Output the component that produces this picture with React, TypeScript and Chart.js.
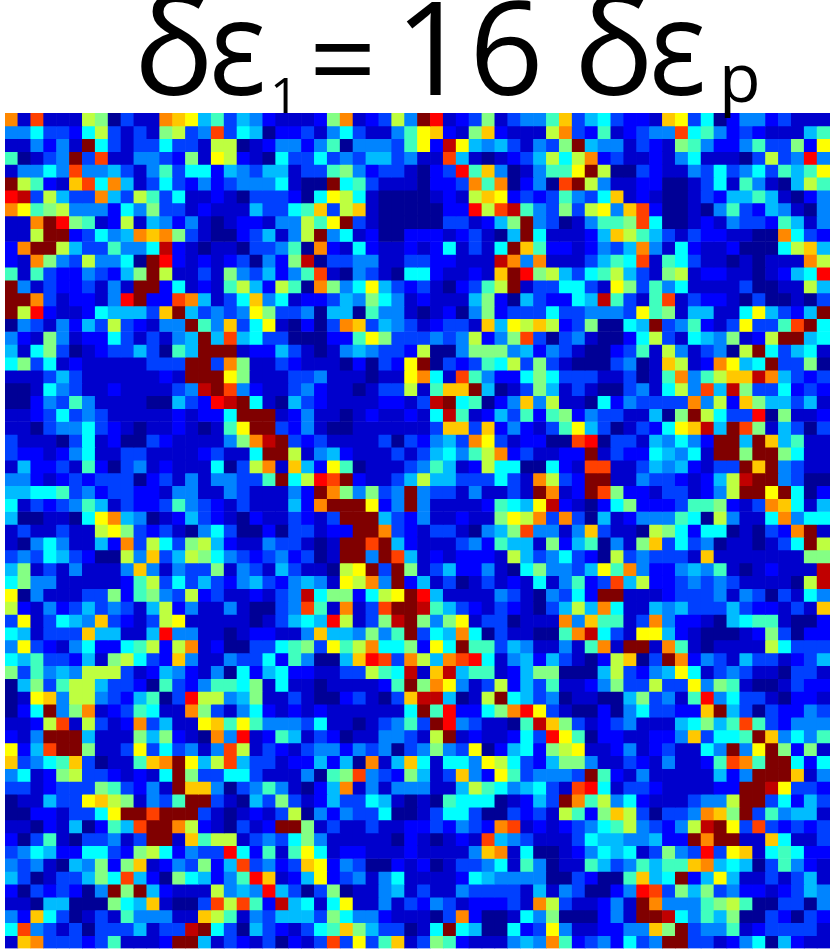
import React, { useEffect, useRef } from "react";
import { Chart, registerables } from "chart.js";

Chart.register(...registerables);

// Colour levels, low to high (0..g).
const levelKeys = "0123456789abcdefg";
const jetPalette = [
  "#000096", "#0000cc", "#0000ff", "#0040ff", "#0084ff", "#00bcff", "#00ffff",
  "#40ffbe", "#84ff84", "#beff40", "#ffff00", "#ffc800", "#ff8800", "#ff4000",
  "#ff0000", "#c00000", "#800000",
];

const columnsLeft = [
  "c 1 d 1 1 1 9 8 0 3 1 1 c b a 5 7 3 5 4 2",
  "4 4 6 3 3 2 6 9 3 1 3 1 8 9 3 4 d 3 6 5 0",
  "1 1 4 2 4 1 g 6 3 1 3 3 6 3 3 1 9 9 0 1 2",
  "7 0 1 3 4 g 3 d 1 1 4 4 3 2 8 1 a 9 2 1 0",
  "1 4 4 6 4 d 4 4 5 3 1 4 7 3 6 6 2 5 4 3 5",
  "g 9 7 2 1 b d 6 c 5 1 3 6 3 2 4 2 3 4 4 4",
  "e f 3 9 5 3 3 c 5 3 9 7 3 6 1 1 2 1 0 3 3",
  "c a 7 8 9 4 4 4 2 6 4 8 3 3 1 2 1 1 1 5 3",
  "1 1 c g e 8 7 1 2 9 1 5 4 2 4 1 0 1 2 2 1",
  "1 1 9 g g 2 3 6 4 5 c b c 8 3 1 0 0 2 3 5",
  "2 c g g 9 5 3 3 7 4 4 6 f 2 1 0 1 1 0 3 3",
  "2 1 c 8 4 3 9 4 4 6 0 g e 2 1 2 1 2 3 0 4",
  "7 1 7 3 2 2 4 3 2 5 8 g 9 1 1 3 1 8 4 3 5",
  "g 4 1 3 2 2 3 1 4 1 g g 2 6 1 2 1 7 9 5 2",
  "g g c 3 1 2 2 1 4 e g 2 2 d c 5 1 3 6 b 4",
  "g 9 e 2 1 1 2 6 5 5 5 3 b g 5 3 4 3 4 a 8",
  "0 4 3 1 4 2 5 3 9 3 2 1 4 4 g 7 4 b 3 6 a",
  "4 2 1 8 4 1 2 2 6 3 1 3 1 4 5 g 5 d 5 6 3",
  "5 1 6 8 3 0 1 2 3 3 5 3 0 7 5 g g g 1 2 2",
  "6 8 3 6 1 2 1 1 1 1 1 3 3 3 g g 3 c 8 1 1",
  "1 1 1 3 5 3 1 1 1 1 1 1 2 1 g g g a 8 1 1",
  "0 0 1 6 4 3 1 1 2 1 1 1 1 3 4 f g d 4 2 1",
  "0 0 2 4 3 7 4 1 1 1 1 0 0 5 3 2 e f g 6 1",
  "1 1 2 3 6 3 4 3 1 1 1 1 1 2 1 2 2 6 g g g",
  "1 1 0 3 4 4 6 3 2 1 0 1 1 2 1 0 1 7 a g g",
  "3 1 1 1 0 3 6 1 2 0 0 3 2 1 1 1 1 4 8 c f",
  "3 2 2 1 2 4 6 1 1 3 3 1 1 1 1 2 3 1 1 6 g",
  "1 5 2 2 3 1 7 2 0 3 4 1 2 1 1 1 6 0 3 9 c",
  "4 4 2 1 2 3 2 3 3 3 0 2 3 1 4 1 4 4 3 3 7",
  "5 5 6 6 7 3 4 2 3 3 2 2 1 4 4 1 1 4 3 1 1",
  "6 1 3 2 3 4 7 5 1 3 2 2 3 7 4 3 2 1 3 1 1",
  "5 0 0 1 1 0 6 a c 5 4 0 1 2 5 3 2 1 0 2 1",
  "1 3 1 1 3 1 1 9 a 8 3 2 3 1 0 4 6 3 0 0 2",
  "1 0 4 6 4 1 1 5 2 c 3 9 6 3 8 9 5 2 1 1 4",
  "3 4 3 6 5 3 2 0 0 9 4 b 3 5 9 8 6 4 3 2 3",
  "5 8 1 3 1 4 1 1 1 4 b 4 1 4 3 3 8 1 4 3 1",
  "6 8 4 4 1 1 1 1 1 2 7 9 3 6 3 5 3 2 4 5 3",
  "a 0 4 1 1 1 3 3 8 2 7 8 4 3 9 2 3 1 1 2 1",
  "9 2 1 4 2 3 5 3 4 3 1 5 9 2 4 1 1 4 1 0 0",
  "3 a 1 3 6 5 4 b 3 2 1 3 9 a 1 1 1 1 1 0 1",
  "6 5 1 3 3 3 b 5 5 1 1 5 e 4 4 1 1 0 1 2 2",
  "4 a 3 2 1 4 6 2 2 6 7 9 2 9 c 1 2 0 0 3 3",
  "6 5 7 3 3 2 5 1 8 9 6 3 2 b 4 1 1 4 3 3 6",
  "8 3 7 4 5 4 9 9 9 3 1 2 5 4 2 1 4 0 6 2 5",
  "0 5 8 3 7 9 9 5 3 3 2 0 7 3 2 4 7 7 6 8 1",
  "0 1 a b 4 9 9 4 3 2 5 7 0 3 e 9 9 4 5 8 1",
  "0 2 6 g 4 8 c 1 2 3 7 6 1 1 c 8 3 1 4 6 2",
  "1 1 2 9 d 1 9 3 1 2 c 3 5 1 1 a b 7 a 7 4",
  "2 1 4 g g g 5 1 1 1 8 5 8 2 1 0 c 4 e 1 2",
  "a 2 5 d g g 8 1 1 3 a 3 6 3 4 1 4 d 9 1 3",
  "b 3 4 6 7 b 3 0 1 1 7 b c g a 5 9 d 5 3 3",
  "4 6 1 2 8 9 3 3 2 1 2 1 6 g 8 3 3 6 6 3 1",
  "3 3 1 2 3 3 3 8 7 3 2 4 1 g b b 4 0 3 4 7",
  "0 1 1 5 3 3 a b 9 8 1 4 3 7 g g 3 1 0 5 3",
  "0 0 2 2 1 3 3 6 a g g d g g g 3 1 0 1 2 1",
  "1 1 0 2 1 5 0 2 7 5 d g g c 9 2 1 0 3 1 2",
  "2 0 3 7 1 0 3 3 4 1 3 g g 1 b 7 9 9 1 3 4",
  "3 4 6 5 2 2 6 6 3 2 8 9 6 2 4 3 3 e 6 2 7",
  "4 3 4 1 0 5 4 8 2 8 b 1 2 4 3 8 2 5 d 3 4",
  "5 3 0 1 3 3 5 8 6 d 5 2 0 8 6 5 2 4 7 e b",
  "2 0 3 2 3 2 0 4 g 8 g 5 2 1 1 1 9 4 5 4 e",
  "1 1 0 5 5 0 0 0 8 6 5 b 1 0 0 3 d 9 d 7 2",
  "4 2 b 6 3 0 1 3 1 7 4 4 4 1 1 b 9 7 1 4 3",
  "6 d 4 3 1 3 0 3 3 3 5 1 3 3 f g 6 3 0 5 3",
  "1 b c 3 3 3 2 3 7 1 1 1 2 g g 5 1 3 2 1 3",
];

const columnsMiddle = [
  "1 1 1 2 8 c 1 2 3 9 4 g e 1 2 3 8 1 3 4 4 7",
  "2 2 3 1 4 6 3 1 1 4 7 a b 2 1 8 b 2 1 1 1 9",
  "4 4 2 4 7 0 4 4 4 3 7 a 2 f a 5 4 5 3 1 4 3",
  "6 3 3 6 3 4 3 5 5 3 4 1 1 d 5 1 0 1 2 3 5 9",
  "5 1 3 3 7 8 4 2 3 3 1 0 2 3 e 7 b 4 0 1 4 7",
  "6 1 0 0 g 6 7 3 1 1 1 0 2 2 3 c 7 c 0 2 4 0",
  "3 2 0 6 a 9 6 1 0 0 0 0 1 2 1 9 b a 2 3 2 3",
  "3 6 7 b 3 9 b 1 0 0 0 0 0 2 2 e 9 d f 7 4 3",
  "4 4 9 7 a g 3 1 0 0 0 0 0 3 3 1 2 5 8 g 4 3",
  "1 4 9 g 4 6 1 2 0 0 2 2 2 1 2 3 1 0 5 g 6 1",
  "4 7 0 c 2 1 6 2 1 1 2 1 2 6 1 3 1 6 g b 7 2",
  "2 8 f 0 3 3 4 4 1 1 3 3 2 2 1 1 1 f c 4 c 1",
  "2 4 7 d 1 0 4 3 1 0 6 6 2 1 1 2 1 b g e 8 9",
  "9 7 0 c 8 4 6 a 5 3 2 3 1 0 2 3 7 9 g 1 3 3",
  "6 1 2 2 3 5 4 8 6 4 1 2 1 1 1 5 8 2 0 5 3 2",
  "3 3 4 0 5 5 0 7 4 4 1 0 1 2 0 4 8 2 3 3 3 6",
  "1 0 2 0 3 c b 3 5 4 3 1 2 3 3 1 b 5 a 9 b 9",
  "3 0 0 0 2 2 7 a 8 3 3 3 4 3 4 9 2 4 8 d 3 0",
  "5 3 1 0 1 4 5 4 3 3 2 9 0 0 4 8 8 8 4 5 2 4",
  "3 2 1 1 1 0 2 0 3 2 a g 0 3 2 3 7 6 9 3 8 3",
  "1 3 3 4 1 1 1 0 1 1 a c 6 1 d 7 4 2 2 6 8 6",
  "1 3 4 2 1 1 0 1 3 3 9 1 7 b b g 5 0 1 3 8 5",
  "0 5 3 2 1 1 1 1 2 2 1 3 f g 6 7 0 2 4 b 4 9",
  "1 2 4 1 1 0 1 2 1 1 2 1 6 f 7 1 2 5 3 7 2 7",
  "3 2 4 1 0 0 1 1 1 1 1 1 3 b b 3 b 2 4 2 1 3",
  "g 3 2 3 1 1 1 1 3 0 3 2 4 5 3 c a 3 1 2 2 0",
  "g 9 1 4 5 2 1 1 1 3 1 3 5 6 4 7 9 c 2 3 1 1",
  "1 b 5 2 a 7 0 1 1 1 3 4 7 5 1 2 9 6 6 0 0 6",
  "g 6 9 e d g 2 1 1 3 5 9 5 5 3 3 3 6 3 1 c 9",
  "1 4 2 g c 8 4 8 3 4 g 4 3 3 1 4 1 1 3 1 g c",
  "1 5 2 c g g g a 2 4 g 4 1 1 1 1 2 7 6 5 a f",
  "1 3 2 1 3 g g g 5 3 2 4 1 1 2 1 1 8 a 9 c 3",
  "0 3 3 1 2 2 g g c 3 2 1 3 3 1 0 4 5 8 d 4 4",
  "3 3 1 0 1 g g d g 5 2 1 1 1 3 4 2 7 5 5 1 8",
  "4 2 3 0 1 g g 4 g d 5 1 2 1 2 2 2 1 9 5 3 4",
  "5 3 1 1 0 9 a g 3 g 8 1 3 5 2 2 4 1 0 6 8 4",
  "2 4 5 4 1 a 9 c 4 g 2 5 1 3 0 1 3 1 2 1 6 1",
  "3 4 f 6 8 8 2 6 9 a g e 5 1 1 1 1 4 3 1 0 4",
  "3 4 d 7 1 c 1 3 d g g f 7 5 3 2 1 3 2 1 0 3",
  "3 5 6 5 e 9 1 3 8 f g 8 4 8 a 1 3 3 0 1 1 1",
  "1 1 4 b 5 5 4 8 4 7 g 3 6 5 c 6 0 3 1 1 0 0",
  "6 7 8 3 a 7 9 c 6 6 8 2 a 6 g 7 7 3 5 4 1 1",
  "2 7 4 0 0 5 b e d 3 c 9 5 c d e 6 1 4 5 2 5",
  "6 2 2 1 1 3 3 9 7 6 f 1 b f 5 7 7 1 2 5 8 8",
  "6 1 1 0 1 1 1 1 2 7 g 8 c a 4 1 3 9 2 5 3 7",
  "1 3 1 0 0 2 3 1 0 3 b f f 5 0 1 9 g 6 5 3 4",
  "1 2 1 2 1 1 1 1 1 1 6 g 7 e 2 2 6 8 c e a 3",
  "4 4 3 6 1 1 0 1 3 4 7 3 g e 4 3 1 1 0 7 f b",
  "7 5 1 3 2 0 1 1 4 4 3 1 9 g 1 2 1 1 2 6 3 e",
  "2 1 3 4 4 2 4 3 4 0 3 4 8 4 3 a 0 2 5 6 2 8",
  "1 2 2 5 2 5 0 c 1 5 b 6 1 6 6 4 a 9 6 3 2 5",
  "1 1 4 0 7 8 d 4 3 2 8 5 1 3 b 4 2 a 7 3 4 4",
  "4 1 0 2 5 c 1 4 1 4 4 4 1 1 5 9 7 6 4 5 6 3",
  "8 3 1 2 5 3 3 6 5 1 0 1 0 7 6 6 6 0 1 2 5 3",
  "3 9 0 4 2 4 3 3 6 0 0 1 3 6 6 3 0 0 3 2 3 1",
  "g g 8 1 3 1 1 3 1 1 2 2 3 2 4 3 2 c d 1 2 1",
  "3 6 8 4 1 1 1 1 1 0 2 1 0 1 2 1 d 5 4 3 1 1",
  "1 7 a 6 1 2 2 1 1 1 2 1 1 1 1 4 b c 1 6 0 0",
  "2 3 b a 2 4 3 0 0 2 1 2 0 1 3 3 4 6 1 7 4 0",
  "1 2 5 a 2 3 4 1 4 6 1 1 1 1 2 6 5 4 4 4 4 0",
  "5 3 0 3 8 0 1 1 4 5 1 3 1 1 4 3 3 3 3 1 5 1",
  "f 5 6 1 6 a 1 1 4 1 3 2 4 3 1 2 2 2 3 1 c 9",
  "5 5 5 3 8 6 4 4 2 1 1 1 0 3 c 2 0 0 1 6 4 8",
  "2 1 3 6 7 b 8 5 3 3 0 1 6 g 6 5 0 0 6 2 3 a",
  "0 2 1 3 d 3 a 3 7 b 1 3 8 7 2 1 1 1 4 5 4 c",
];

const columnsRight = [
  "b 3 5 6 3 2 2 1 b a 3 6 0 2 4 4 2 3 1 1 1",
  "c 3 2 7 1 2 3 4 4 d 6 7 4 2 3 2 1 1 1 5 7",
  "8 g 5 4 4 1 3 2 1 8 7 4 2 2 4 7 3 3 8 2 a",
  "6 9 c 2 3 1 1 2 1 4 6 1 1 1 0 3 9 3 4 e 4",
  "7 a g 9 0 0 3 2 1 1 4 3 6 3 4 6 3 7 5 7 a",
  "d g 9 4 1 1 2 2 0 0 1 3 6 1 7 4 1 0 5 9 7",
  "7 4 3 6 b 1 2 1 0 0 1 3 2 5 5 7 5 1 0 2 4",
  "8 3 9 a 4 b d 2 0 0 1 0 4 7 3 2 5 4 1 0 4",
  "0 1 4 7 7 8 d 6 0 0 1 2 1 4 3 3 2 7 5 1 4",
  "1 1 2 5 b 9 7 5 3 1 3 2 2 1 1 0 0 c 6 3 2",
  "2 1 2 4 3 5 c 4 1 6 2 1 1 2 0 0 0 6 9 b 5",
  "1 1 3 5 7 6 d 1 7 6 3 1 1 0 1 0 1 1 1 c 9",
  "5 3 6 7 9 5 3 1 8 9 1 2 2 1 1 0 1 2 5 6 e",
  "6 6 3 1 a 8 3 7 4 6 1 1 1 1 3 0 0 1 1 9 5",
  "2 6 5 f 7 3 1 7 d 1 3 2 2 1 0 3 0 0 1 0 3",
  "3 3 4 4 4 3 a 7 8 1 5 5 1 1 6 a 5 3 2 5 g",
  "2 3 8 0 0 6 5 g 3 4 7 2 1 3 a 3 3 7 d g 6",
  "3 4 1 0 0 2 6 9 3 1 6 5 4 8 1 2 9 g g 5 6",
  "3 1 0 0 2 3 7 1 9 4 1 3 4 0 9 g 6 3 5 6 1",
  "1 0 0 0 3 4 0 1 b 9 1 2 c a 5 6 g 3 3 8 0",
  "3 3 3 1 1 3 0 1 7 c 4 7 9 b b f c 5 3 2 3",
  "1 3 1 0 0 3 4 1 6 9 4 d 5 f 8 3 3 6 2 3 2",
  "1 1 0 6 2 4 3 3 3 3 c 4 9 2 b 8 5 5 3 5 1",
  "8 2 4 3 3 1 1 5 0 8 g 9 6 3 3 e 0 8 1 1 2",
  "7 a 5 3 0 1 3 2 6 a b f 5 g d 8 1 5 3 0 3",
  "0 d e 0 3 3 1 5 4 6 4 2 g g 5 g b 5 7 1 1",
  "2 2 g 1 3 2 2 6 5 4 6 1 g g 8 g g 8 6 1 1",
  "2 1 d d 1 1 3 5 4 5 2 1 3 3 g b g 4 3 1 1",
  "3 2 g g 1 1 4 3 3 2 1 2 5 9 f g g 4 3 0 0",
  "1 2 g d 8 2 2 1 3 3 1 2 4 9 g g a g 6 0 2",
  "2 1 0 2 6 8 2 2 2 3 7 7 8 2 1 3 c b 6 1 5",
  "c 3 0 5 1 2 4 4 4 7 6 0 9 4 1 1 6 c 4 6 6",
  "1 4 b 3 1 1 0 9 8 6 2 6 6 0 1 0 3 2 c g 1",
  "2 5 7 0 4 1 8 b 3 6 3 4 0 1 1 0 1 3 6 g 9",
  "6 3 2 0 9 3 4 3 3 3 1 b 1 1 1 1 1 1 1 8 8",
  "4 3 5 a 7 c 4 2 2 4 5 4 7 1 0 1 2 1 1 1 f",
  "4 7 2 3 d 5 9 2 2 3 4 3 4 3 1 1 1 1 0 9 f",
  "3 6 2 g g 1 1 1 2 3 3 3 4 1 4 3 0 3 1 6 4",
  "5 9 5 c 6 1 1 5 4 5 3 3 3 5 3 2 2 1 3 1 b",
  "c 4 b 7 7 1 3 c 4 2 2 1 0 5 6 7 7 1 0 0 2",
  "7 c f 6 3 1 a a 5 2 1 0 0 0 1 2 8 3 0 2 2",
  "4 1 7 c 1 g g 1 c 7 1 0 1 1 1 1 9 6 3 3 3",
  "3 1 0 2 9 b 0 3 g c 2 4 3 1 5 3 3 1 2 3 5",
  "0 0 0 5 9 3 2 4 5 a 6 1 3 4 3 1 1 0 3 3 1",
  "1 1 2 4 8 3 3 9 3 3 a 4 8 7 1 0 0 1 3 2 2",
  "0 1 1 0 0 5 8 3 4 1 7 e 4 6 3 3 1 0 2 2 1",
  "1 0 0 2 0 4 6 3 3 2 2 b g 5 3 0 3 2 2 4 3",
  "8 3 1 2 3 4 1 1 1 5 6 8 5 7 d 7 3 2 4 4 4",
  "a 7 0 2 2 1 1 2 2 4 b 3 6 6 7 g b 4 6 4 7",
  "9 a 1 1 2 4 1 2 3 1 1 6 4 g 4 a g 8 2 8 1",
  "8 8 4 1 1 3 2 1 4 1 1 2 7 d c 7 g g 6 2 6",
  "4 3 g 7 2 1 4 1 1 1 1 1 5 2 4 g g g b 1 4",
  "1 d e 6 1 3 3 2 1 1 1 1 2 2 g g f a 3 3 2",
  "g c 7 9 4 6 2 1 1 1 3 4 4 9 g g 3 6 2 5 3",
  "9 7 2 8 b 9 3 0 3 3 4 c b 8 g 3 7 4 5 5 1",
  "2 3 4 6 7 9 4 3 2 4 9 f g a 3 d 3 2 3 2 3",
  "1 3 6 5 5 4 4 5 2 2 g c g g 1 1 b 6 1 1 3",
  "1 2 4 6 5 6 1 3 8 4 3 e 3 a b 1 6 7 6 2 2",
  "1 1 7 5 3 4 7 5 7 7 b c 5 6 5 0 3 7 4 2 1",
  "0 3 2 0 0 7 b 5 6 g 2 5 a 5 1 1 3 1 3 5 1",
  "4 3 0 0 2 4 e d 3 8 5 8 3 4 2 2 1 2 3 5 4",
  "3 1 1 2 4 1 g c 4 4 4 7 8 9 7 0 0 3 3 0 4",
  "0 0 0 2 4 1 g g f 6 4 7 5 8 0 0 3 2 0 3 2",
  "4 1 1 2 2 4 4 b 8 g 3 4 4 7 1 2 3 3 3 3 1",
  "7 2 3 4 2 6 3 4 g g 3 3 1 2 4 6 0 5 2 1 1",
];

const titlePieces = [
  { text: "δ", x: 134, y: 95, size: 133, scaleX: 1, weight: 500 },
  { text: "ε", x: 209, y: 95, size: 133, scaleX: 0.9, weight: 500 },
  { text: "1", x: 270, y: 113, size: 50, scaleX: 1, weight: 400 },
  { text: "=", x: 309, y: 101, size: 118, scaleX: 1, weight: 500 },
  { text: "16", x: 395, y: 95, size: 130, scaleX: 1, weight: 500 },
  { text: "δ", x: 574, y: 95, size: 133, scaleX: 1, weight: 500 },
  { text: "ε", x: 649, y: 95, size: 133, scaleX: 0.9, weight: 500 },
  { text: "p", x: 719, y: 102, size: 68, scaleX: 1, weight: 400 },
];

const rowLevels = columnsLeft.map((left, i) =>
  `${left} ${columnsMiddle[i]} ${columnsRight[i]}`
    .split(" ")
    .map((key) => levelKeys.indexOf(key))
);
const columnLabels = rowLevels[0].map((_, i) => String(i));

const titlePlugin = {
  id: "heatTitle",
  afterDraw(chart: Chart) {
    const ctx = chart.ctx;
    ctx.save();
    ctx.fillStyle = "#000000";
    ctx.textAlign = "left";
    ctx.textBaseline = "alphabetic";
    for (const piece of titlePieces) {
      ctx.save();
      ctx.font = `${piece.weight} ${piece.size}px "Open Sans"`;
      ctx.translate(piece.x, piece.y);
      ctx.scale(piece.scaleX, 1);
      ctx.fillText(piece.text, 0, 0);
      ctx.restore();
    }
    ctx.restore();
  },
};

export default function App() {
  const canvasRef = useRef<HTMLCanvasElement | null>(null);

  useEffect(() => {
    const chart = new Chart(canvasRef.current as HTMLCanvasElement, {
      type: "bar",
      data: {
        labels: columnLabels,
        datasets: rowLevels.map((levels, r) => ({
          label: `row ${r}`,
          data: levels.map(() => [r, r + 1]),
          backgroundColor: levels.map((v) => jetPalette[v]),
          borderWidth: 0,
          barPercentage: 1,
          categoryPercentage: 1,
          grouped: false,
        })),
      } as any,
      options: {
        responsive: false,
        animation: false,
        devicePixelRatio: 1,
        layout: { padding: { left: 5, top: 113, right: 0, bottom: 1.5 } },
        scales: {
          x: { type: "category", display: false, offset: true, grid: { display: false } },
          y: { type: "linear", display: false, reverse: true, min: 0, max: rowLevels.length, grid: { display: false } },
        },
        plugins: { legend: { display: false }, tooltip: { enabled: false }, title: { display: false } },
      } as any,
      plugins: [titlePlugin],
    });
    return () => chart.destroy();
  }, []);

  return (
    <div style={{ position: "absolute", left: 0, top: 0, width: 830, height: 950, background: "#fff" }}>
      <canvas ref={canvasRef} width={830} height={950} style={{ display: "block" }} />
    </div>
  );
}
